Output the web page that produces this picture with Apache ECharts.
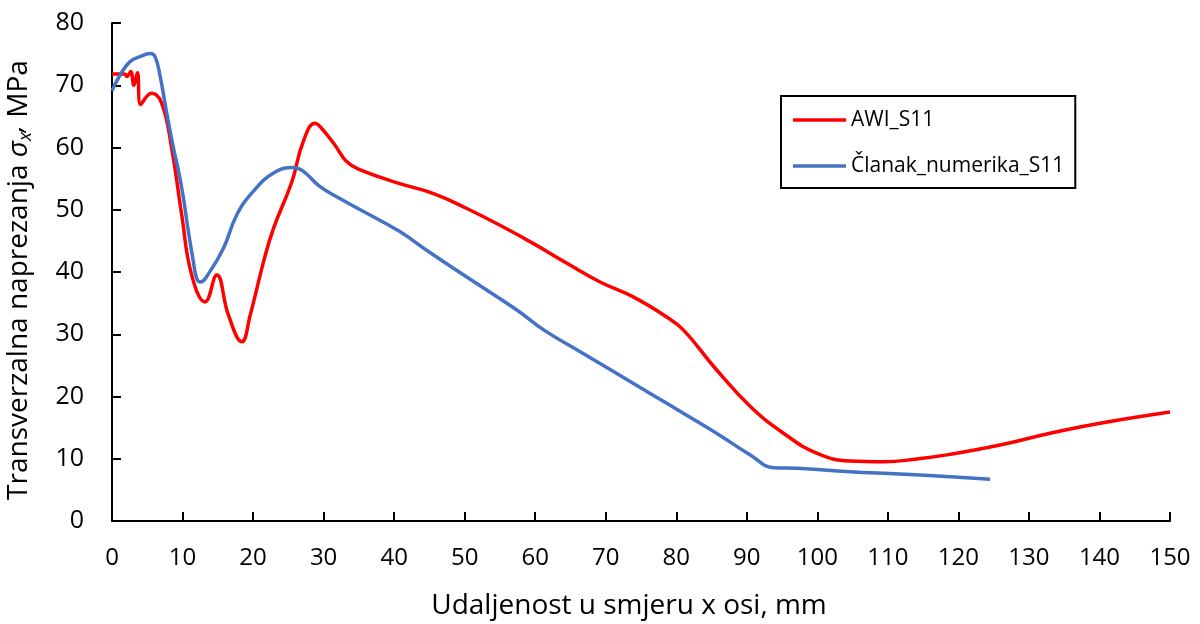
<!DOCTYPE html>
<html>
<head>
<meta charset="utf-8">
<script src="https://cdn.jsdelivr.net/npm/echarts@6/dist/echarts.min.js"></script>
<style>
html,body{margin:0;padding:0;background:#fff;}
#c{width:1200px;height:624px;}
</style>
</head>
<body>
<div id="c"></div>
<script>
// Series names
const seriesNames = ['AWI_S11', 'Članak_numerika_S11'];

// AWI_S11: [x mm, stress MPa]
const awiX = [0, 1.8, 2.1, 2.65, 3.1, 3.6, 4.05, 5.6, 7.05, 8.46, 9.88, 11.3, 13.2, 14.85, 16.5, 18.4, 19.6, 21.5, 22.9, 25.5, 27.1, 28.8, 29.7, 31.6, 33.3, 35.2, 40.8, 45.6, 50.3, 55.0, 59.7, 64.5, 69.2, 73.9, 78.6, 81.0, 85.7, 90.5, 95.2, 99.9, 104.6, 109.4, 114.1, 118.8, 125.9, 133.0, 140.1, 150];
const awiY = [71.8, 71.8, 71.4, 72.2, 70.0, 72.0, 66.9, 68.7, 67.1, 59.9, 49.2, 39.5, 35.2, 39.5, 33.1, 28.8, 33.1, 41.7, 47.0, 54.5, 60.9, 63.9, 63.1, 60.4, 57.7, 56.4, 54.2, 52.6, 50.2, 47.5, 44.6, 41.4, 38.4, 36.0, 32.8, 30.7, 24.3, 18.4, 14.1, 10.9, 9.64, 9.53, 9.96, 10.7, 12.2, 14.1, 15.7, 17.5];

// Članak_numerika_S11
const numX = [0, 1.13, 2.55, 3.97, 5.4, 6.1, 6.8, 7.75, 8.7, 9.4, 10.1, 10.8, 11.5, 12.0, 12.5, 13.9, 15.8, 17.7, 20.0, 22.9, 25.7, 27.1, 29.5, 32.3, 35.2, 40.8, 44.6, 50.3, 57.4, 61.2, 65.9, 76.3, 81.0, 85.7, 90.5, 93.8, 97.1, 104.6, 111.7, 118.8, 124.5];
const numY = [69.1, 71.6, 73.8, 74.6, 75.1, 74.6, 71.6, 65.6, 60.0, 56.4, 52.1, 46.7, 41.9, 39.0, 38.4, 40.1, 43.8, 49.2, 52.9, 55.9, 56.8, 56.2, 53.7, 51.8, 50.0, 46.5, 43.5, 39.2, 33.9, 30.7, 27.5, 20.5, 17.3, 14.1, 10.6, 8.56, 8.47, 7.92, 7.55, 7.12, 6.7];

// Axis ticks
const xTicks = {min: 0, max: 150, interval: 10};
const yTicks = {min: 0, max: 80, interval: 10};

const FONT = "'Open Sans', 'Noto Sans', sans-serif";
const pair = (xs, ys) => xs.map((x, i) => [x, ys[i]]);

const chart = echarts.init(document.getElementById('c'), null, {renderer: 'canvas'});
const axisCommon = {
  axisLine: {show: true, onZero: false, lineStyle: {color: '#000', width: 2}},
  axisTick: {show: true, inside: true, length: 9, lineStyle: {color: '#000', width: 2}},
  splitLine: {show: false}
};
chart.setOption({
  backgroundColor: '#fff',
  animation: false,
  grid: {left: 112, right: 30, top: 23, bottom: 103, containLabel: false, outerBoundsMode: 'none'},
  legend: {
    orient: 'vertical',
    left: 781, top: 96,
    padding: [13, 11, 11, 12],
    icon: 'rect',
    itemWidth: 53, itemHeight: 3.5, itemGap: 24,
    borderColor: '#000', borderWidth: 2,
    textStyle: {fontFamily: FONT, fontSize: 21, color: '#000', lineHeight: 22},
    data: seriesNames
  },
  xAxis: Object.assign({
    type: 'value', min: xTicks.min, max: xTicks.max, interval: xTicks.interval,
    name: 'Udaljenost u smjeru x osi, mm',
    nameLocation: 'middle', nameGap: 71,
    nameTextStyle: {fontFamily: FONT, fontSize: 28, color: '#000', padding: [0, 24, 0, 0]},
    axisLabel: {fontFamily: FONT, fontSize: 24, color: '#000', margin: 25}
  }, axisCommon),
  yAxis: Object.assign({
    type: 'value', min: yTicks.min, max: yTicks.max, interval: yTicks.interval,
    name: '{a|Transverzalna naprezanja }{s|σ}{b|x}{c|,}{a| MPa}',
    nameLocation: 'middle', nameGap: 73,
    nameTextStyle: {
      fontFamily: FONT, fontSize: 28, color: '#000', padding: [0, 16, 0, 0],
      rich: {
        a: {fontFamily: FONT, fontSize: 28, color: '#000'},
        s: {fontFamily: FONT, fontSize: 28, color: '#000', fontStyle: 'italic'},
        b: {fontFamily: FONT, fontSize: 19, color: '#000', fontStyle: 'italic', padding: [13, 0, 0, 0]},
        c: {fontFamily: FONT, fontSize: 28, color: '#000', fontStyle: 'italic', padding: [0, 0, 11, 0]}
      }
    },
    axisLabel: {fontFamily: FONT, fontSize: 25, color: '#000', margin: 28}
  }, axisCommon),
  series: [
    {
      name: seriesNames[0], type: 'line', data: pair(awiX, awiY),
      symbol: 'none', smooth: 0.45,
      lineStyle: {color: '#FF0000', width: 3.5},
      itemStyle: {color: '#FF0000'}
    },
    {
      name: seriesNames[1], type: 'line', data: pair(numX, numY),
      symbol: 'none', smooth: 0.45,
      lineStyle: {color: '#4472C4', width: 3.5},
      itemStyle: {color: '#4472C4'}
    }
  ]
});
</script>
</body>
</html>
